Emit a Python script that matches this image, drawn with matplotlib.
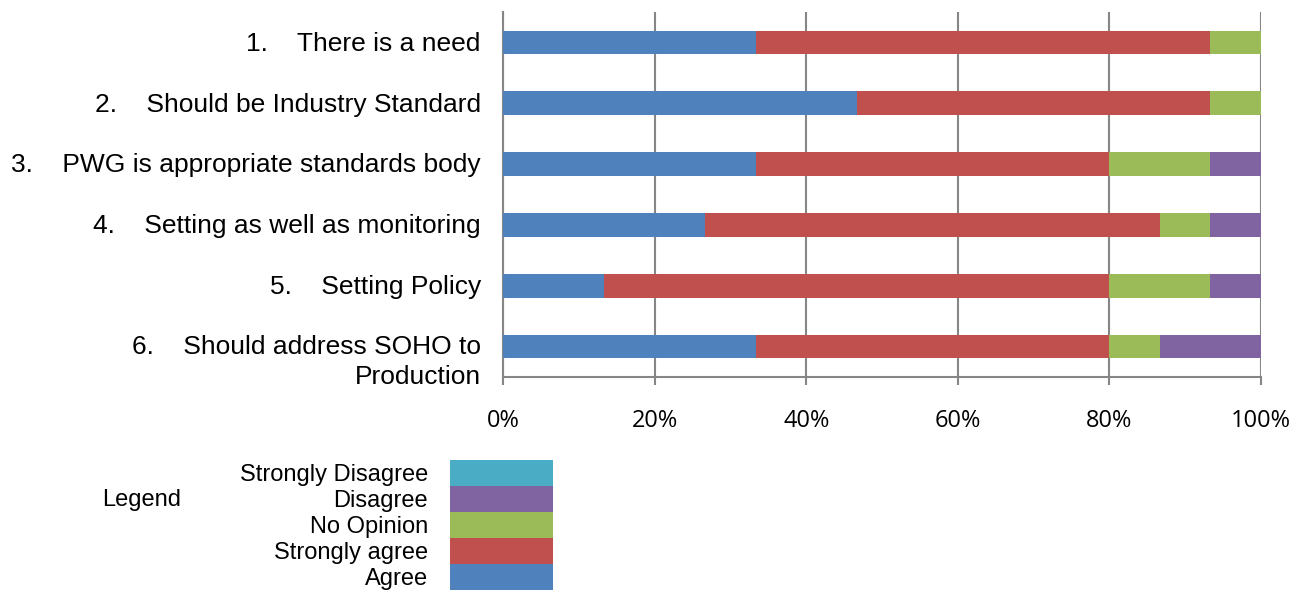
import matplotlib
matplotlib.use("Agg")
import matplotlib.pyplot as plt
from matplotlib.patches import Patch
import numpy as np

categories = [
    "1.    There is a need",
    "2.    Should be Industry Standard",
    "3.    PWG is appropriate standards body",
    "4.    Setting as well as monitoring",
    "5.    Setting Policy",
    "6.    Should address SOHO to\nProduction",
]
# Response counts per statement (15 respondents)
agree = [5, 7, 5, 4, 2, 5]
strongly_agree = [9, 7, 7, 9, 10, 7]
no_opinion = [1, 1, 2, 1, 2, 1]
disagree = [0, 0, 1, 1, 1, 2]
strongly_disagree = [0, 0, 0, 0, 0, 0]

series_names = ["Agree", "Strongly agree", "No Opinion", "Disagree", "Strongly Disagree"]
series_colors = ["#4F81BD", "#C0504D", "#9BBB59", "#8064A2", "#4BACC6"]
x_ticks = [0, 20, 40, 60, 80, 100]
x_tick_labels = ["0%", "20%", "40%", "60%", "80%", "100%"]

SANS = ["Liberation Sans", "DejaVu Sans"]
NARROW = ["Liberation Sans Narrow", "Open Sans", "DejaVu Sans"]

data = np.array([agree, strongly_agree, no_opinion, disagree, strongly_disagree], dtype=float)
pct = data / data.sum(axis=0) * 100

fig = plt.figure(figsize=(13.05, 5.93), dpi=100)
ax = fig.add_axes([503 / 1305, 1 - 377 / 593, 758 / 1305, 365 / 593])

y = np.arange(len(categories))
left = np.zeros(len(categories))
for vals, name, col in zip(pct, series_names, series_colors):
    ax.barh(y, vals, left=left, height=0.39, color=col, label=name,
            edgecolor="none", zorder=3)
    left += vals

ax.set_xlim(0, 100)
ax.set_ylim(len(categories) - 0.5, -0.5)
ax.set_xticks(x_ticks)
ax.set_xticklabels(x_tick_labels, fontsize=17, family=NARROW)
ax.tick_params(axis="x", length=6, width=1.5, color="#868686", pad=17)
ax.set_yticks(y)
ax.set_yticklabels([])
ax.tick_params(axis="y", length=0)

# Category labels, right-aligned left of the axis; wrapped labels hang from the first line
for yi, lab in zip(y, categories):
    if "\n" in lab:
        ax.annotate(lab, xy=(0, yi), xycoords=("axes fraction", "data"),
                    xytext=(-16, 8), textcoords="offset points",
                    ha="right", va="top", fontsize=19, family=SANS,
                    linespacing=1.27, annotation_clip=False)
    else:
        ax.annotate(lab, xy=(0, yi), xycoords=("axes fraction", "data"),
                    xytext=(-16, -1), textcoords="offset points",
                    ha="right", va="center", fontsize=19, family=SANS,
                    annotation_clip=False)

ax.grid(axis="x", color="#868686", linewidth=1.5, zorder=0)
for side in ["top", "right"]:
    ax.spines[side].set_visible(False)
for side in ["left", "bottom"]:
    ax.spines[side].set_color("#868686")
    ax.spines[side].set_linewidth(1.5)

# Legend block in the lower left
handles = [Patch(facecolor=c, edgecolor="none") for c in series_colors][::-1]
labels = series_names[::-1]
fig.legend(handles, labels, loc="upper right", bbox_to_anchor=(553 / 1305, 1 - 460 / 593),
           markerfirst=False, frameon=False, labelspacing=0,
           handlelength=4.36, handleheight=1.32, handletextpad=0.93,
           borderaxespad=0, borderpad=0,
           prop={"family": SANS, "size": 17})
fig.text(142 / 1305, 1 - 500 / 593, "Legend", fontsize=17, ha="center", va="center",
         family=SANS)

fig.savefig("out.png", dpi=100)
